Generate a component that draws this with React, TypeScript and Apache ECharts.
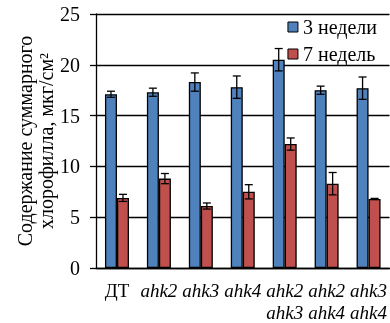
import React, { useEffect, useRef } from "react";
import * as echarts from "echarts";

// Genotypes (second line of the double mutants goes under the first)
const categories = ["ДТ", "ahk2", "ahk3", "ahk4", "ahk2\nahk3", "ahk2\nahk4", "ahk3\nahk4"];
const seriesNames = ["3 недели", "7 недель"];
// Total chlorophyll content, µg/cm²
const weeks3 = [17.1, 17.3, 18.3, 17.8, 20.5, 17.5, 17.7];
const weeks3Err = [0.3, 0.4, 0.9, 1.1, 1.1, 0.4, 1.1];
const weeks7 = [6.9, 8.8, 6.1, 7.5, 12.2, 8.3, 6.8];
const weeks7Err = [0.35, 0.5, 0.3, 0.7, 0.6, 1.1, 0.05];
const yTicks = [0, 5, 10, 15, 20, 25];

const colors = ["#4F81BD", "#C0504D"];
const FONT = "Liberation Serif";
const BAR_W = 12;

function errorSeries(values: number[], errs: number[], offset: number) {
  return {
    type: "custom",
    silent: true,
    z: 10,
    data: values.map((v, i) => [i, v, errs[i]]),
    renderItem: (params: any, api: any) => {
      const i = api.value(0);
      const v = api.value(1);
      const e = api.value(2);
      const hi = api.coord([i, v + e]);
      const lo = api.coord([i, v - e]);
      const x = hi[0] + offset;
      const cap = 4;
      const style = { stroke: "#000", lineWidth: 1.3 };
      return {
        type: "group",
        children: [
          { type: "line", shape: { x1: x, y1: hi[1], x2: x, y2: lo[1] }, style },
          { type: "line", shape: { x1: x - cap, y1: hi[1], x2: x + cap, y2: hi[1] }, style },
          { type: "line", shape: { x1: x - cap, y1: lo[1], x2: x + cap, y2: lo[1] }, style },
        ],
      };
    },
  };
}

export default function App() {
  const ref = useRef<HTMLDivElement>(null);

  useEffect(() => {
    if (!ref.current) return;
    const chart = echarts.init(ref.current, undefined, { renderer: "svg" });
    const titleStyle = {
      fontFamily: FONT,
      fontSize: 20,
      fill: "#000",
      textAlign: "center",
      textVerticalAlign: "middle",
    };
    chart.setOption({
      animation: false,
      textStyle: { fontFamily: FONT },
      grid: { left: 96, right: 0, top: 14, bottom: 55 },
      legend: {
        orient: "vertical",
        right: 8,
        top: 12,
        itemWidth: 10,
        itemHeight: 10,
        itemGap: 7,
        icon: "rect",
        data: seriesNames.map((n, k) => ({
          name: n,
          itemStyle: { color: colors[k], borderColor: "#000", borderWidth: 1 },
        })),
        textStyle: { fontFamily: FONT, fontSize: 20, color: "#000" },
      },
      graphic: [
        {
          type: "text",
          x: 25,
          y: 141,
          rotation: Math.PI / 2,
          style: { ...titleStyle, text: "Содержание суммарного" },
        },
        {
          type: "text",
          x: 46,
          y: 141,
          rotation: Math.PI / 2,
          style: { ...titleStyle, text: "хлорофилла, мкг/см²" },
        },
      ],
      xAxis: {
        type: "category",
        data: categories,
        axisLine: { lineStyle: { color: "#000", width: 1.3 } },
        axisTick: { alignWithLabel: false, length: 6, lineStyle: { color: "#000", width: 1.3 } },
        axisLabel: {
          interval: 0,
          margin: 11,
          lineHeight: 22,
          color: "#000",
          formatter: (val: string) =>
            val === "ДТ"
              ? `{n|${val}}`
              : val.split("\n").map((s) => `{i|${s}}`).join("\n"),
          rich: {
            n: { fontFamily: FONT, fontSize: 19, color: "#000", lineHeight: 22 },
            i: { fontFamily: FONT, fontSize: 19, fontStyle: "italic", color: "#000", lineHeight: 22 },
          },
        },
      },
      yAxis: {
        type: "value",
        min: yTicks[0],
        max: yTicks[yTicks.length - 1],
        interval: yTicks[1] - yTicks[0],
        axisLine: { show: true, lineStyle: { color: "#000", width: 1.3 } },
        axisTick: { show: true, length: 6, lineStyle: { color: "#000", width: 1.3 } },
        axisLabel: { color: "#000", fontFamily: FONT, fontSize: 20, margin: 16 },
        splitLine: { lineStyle: { color: "#000", width: 1.3 } },
      },
      series: [
        {
          name: seriesNames[0],
          type: "bar",
          data: weeks3,
          barWidth: BAR_W,
          barGap: "0%",
          itemStyle: { color: colors[0], borderColor: "#000", borderWidth: 1.3 },
        },
        {
          name: seriesNames[1],
          type: "bar",
          data: weeks7,
          barWidth: BAR_W,
          barGap: "0%",
          itemStyle: { color: colors[1], borderColor: "#000", borderWidth: 1.3 },
        },
        errorSeries(weeks3, weeks3Err, -BAR_W / 2),
        errorSeries(weeks7, weeks7Err, BAR_W / 2),
      ],
    });
    return () => chart.dispose();
  }, []);

  return (
    <div
      ref={ref}
      style={{ position: "fixed", left: 0, top: 0, width: 390, height: 323 }}
    />
  );
}
